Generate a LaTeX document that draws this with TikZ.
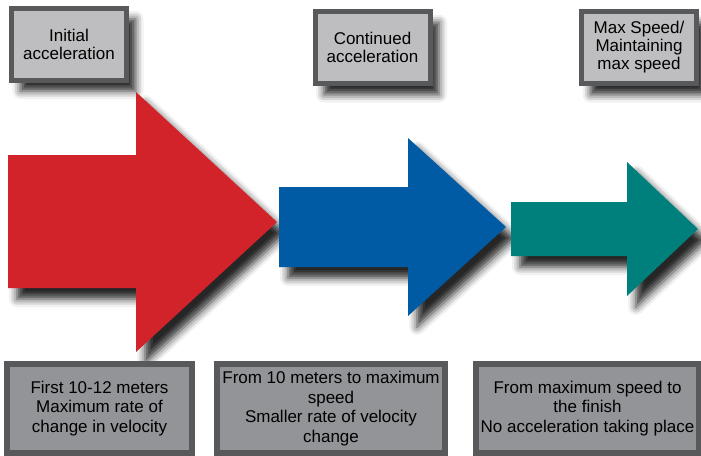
\documentclass[tikz,border=0pt]{standalone}
\usepackage{fontspec}
\setmainfont{Liberation Sans}
\usetikzlibrary{shadows.blur}

\definecolor{sprintred}{RGB}{210,35,42}
\definecolor{sprintblue}{RGB}{0,91,164}
\definecolor{sprintteal}{RGB}{0,128,124}
\definecolor{boxedge}{RGB}{88,89,91}
\definecolor{stagefill}{RGB}{190,190,192}
\definecolor{notefill}{RGB}{147,148,152}

\tikzset{
    dropshadow/.style={blur shadow={shadow xshift=9pt,shadow yshift=-11pt,
        shadow blur radius=8pt,shadow opacity=85}},
    stagebox/.style={draw=boxedge,line width=5pt,fill=stagefill,dropshadow,
        align=center,inner sep=0pt,minimum width=115pt,minimum height=72pt,
        font=\fontsize{17}{18}\selectfont},
    notebox/.style={draw=boxedge,line width=5.5pt,fill=notefill,
        align=center,inner sep=0pt,minimum height=89pt,
        font=\fontsize{17}{19.5}\selectfont},
}

\begin{document}
\begin{tikzpicture}[x=1pt,y=-1pt]
    \useasboundingbox (0,0) rectangle (701,455);

    % stage labels
    \node[stagebox] (initial) at (69,44) {Initial\\acceleration};
    \node[stagebox] (continued) at (372.5,47.5) {Continued\\acceleration};
    \node[stagebox] (maxspeed) at (639,47.5) {Max Speed/\\Maintaining\\max speed};

    % arrows
    \fill[sprintred,dropshadow] (8,155) -- (136,155) -- (136,92) -- (277,222)
        -- (136,352) -- (136,288) -- (8,288) -- cycle;
    \fill[sprintblue,dropshadow] (279,187) -- (408,187) -- (408,138) -- (506,227)
        -- (408,316) -- (408,267) -- (279,267) -- cycle;
    \fill[sprintteal,dropshadow] (511,202) -- (627,202) -- (627,162) -- (698,229)
        -- (627,296) -- (627,256) -- (511,256) -- cycle;

    % notes
    \node[notebox,minimum width=185pt] (first) at (99.5,408.5)
        {First 10-12 meters\\Maximum rate of\\change in velocity};
    \node[notebox,minimum width=228pt] (middle) at (331,408.5)
        {From 10 meters to maximum\\speed\\Smaller rate of velocity\\change};
    \node[notebox,minimum width=223pt] (finish) at (587.5,408.5)
        {From maximum speed to\\the finish\\No acceleration taking place};
\end{tikzpicture}
\end{document}
